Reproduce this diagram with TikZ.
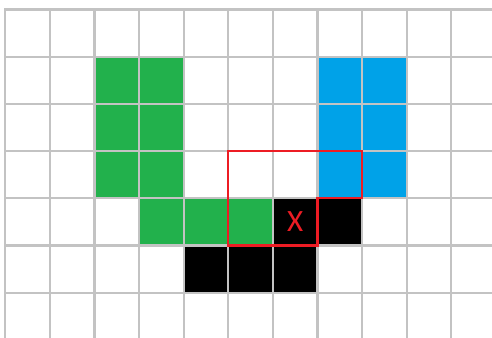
\documentclass[tikz,border=0pt]{standalone}
\usepackage{fontspec}
\setmainfont{Carlito}
\definecolor{cgreen}{RGB}{34,177,76}
\definecolor{cblue}{RGB}{0,162,232}
\definecolor{cgrid}{RGB}{195,195,195}
\definecolor{cred}{RGB}{237,28,36}
\begin{document}
\begin{tikzpicture}[x=1pt,y=-1pt,
  gridline/.style={draw=cgrid,line width=2.3pt},
  redline/.style={draw=cred,line width=2.2pt,line join=miter}]
\def\gx#1{5.3+44.6*#1}
\def\gy#1{9.5+47.2*#1}
\newcommand\cell[3]{\fill[#1] ({\gx{#2}},{\gy{#3}}) rectangle ({\gx{(#2+1)}},{\gy{(#3+1)}});}
\fill[white] (0,0) rectangle (492,337);
\useasboundingbox (0,0) rectangle (492,337);
\begin{scope}
\clip (0,0) rectangle (492,337);
% green
\foreach \c in {2,3}{\foreach \r in {1,2,3}{\cell{cgreen}{\c}{\r}}}
\foreach \c in {3,4,5}{\cell{cgreen}{\c}{4}}
% blue
\foreach \c in {7,8}{\foreach \r in {1,2,3}{\cell{cblue}{\c}{\r}}}
% black
\cell{black}{6}{4}\cell{black}{7}{4}
\foreach \c in {4,5,6}{\cell{black}{\c}{5}}
% grid
\foreach \i in {0,...,11}{\draw[gridline] ({\gx{\i}},{\gy{0}-1.15}) -- ({\gx{\i}},340);}
\foreach \j in {0,...,7}{\draw[gridline] ({\gx{0}-1.15},{\gy{\j}}) -- (495,{\gy{\j}});}
\end{scope}
% red outline
\coordinate (r1) at ({\gx{5}},{\gy{3}});
\coordinate (r2) at ({\gx{8}},{\gy{3}});
\coordinate (r3) at ({\gx{8}},{\gy{4}});
\coordinate (r4) at ({\gx{7}},{\gy{4}});
\coordinate (r5) at ({\gx{7}},{\gy{5}});
\coordinate (r6) at ({\gx{5}},{\gy{5}});
\draw[redline] (r1) -- (r2) -- (r3) -- (r4) -- (r5) -- (r6) -- cycle;
\node[text=cred,font=\fontsize{31}{31}\selectfont,inner sep=0pt] (x) at ({\gx{6.5}},{\gy{4.5}}) {X};
\end{tikzpicture}
\end{document}
